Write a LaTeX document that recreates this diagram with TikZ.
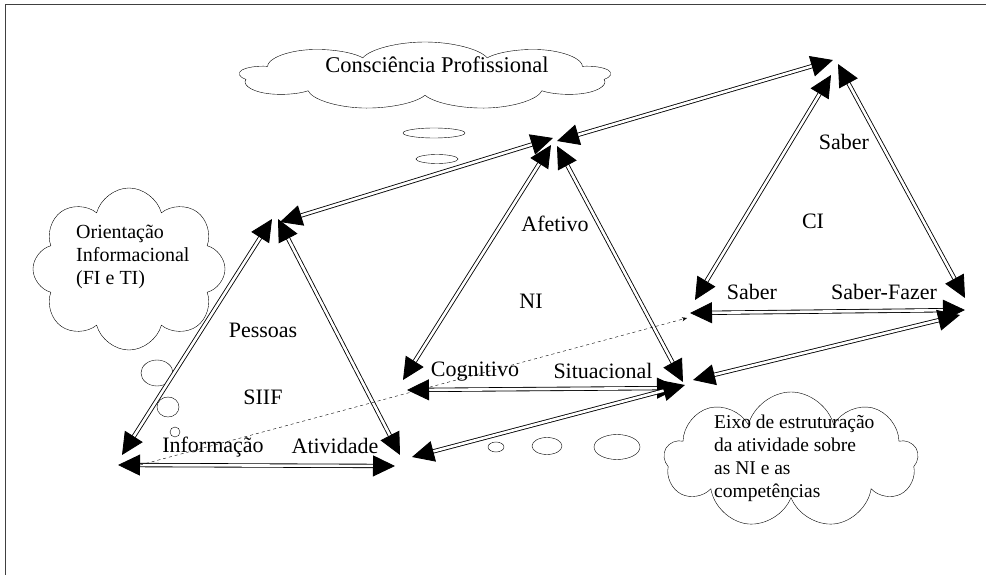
\documentclass[tikz,border=0pt]{standalone}
\usepackage{fontspec}
\setmainfont{Liberation Serif}
\usetikzlibrary{arrows.meta, shapes.symbols, positioning}

\tikzset{
  link/.style = {double, line width=0.85pt, double distance=2.6pt,
    {Triangle[length=22pt, width=21pt]}-{Triangle[length=22pt, width=21pt]}},
  thought/.style = {cloud, draw, cloud ignores aspect, inner sep=0pt},
  lbl/.style = {font=\fontsize{22}{24}\selectfont},
  bubble/.style = {draw}
}

\begin{document}
\begin{tikzpicture}[x=1pt, y=-1pt]
  \useasboundingbox (0,0) rectangle (986,575);
  \draw[gray!50!black, line width=0.8pt] (5,575) -- (5,4) -- (986,4);

  % clouds and their bubbles
  \begin{scope}[shift={(425,76)}, xscale=3]
    \node[thought, cloud puffs=9, minimum width=124pt, minimum height=68pt, transform shape] (conscloud) at (0,0) {};
  \end{scope}
  \node[font=\fontsize{22.5}{24}\selectfont] (consc) at (437,65) {Consciência Profissional};
  \node[thought, cloud puffs=8, minimum width=192pt, minimum height=162pt] (oricloud) at (129,269) {};
  \node[font=\fontsize{20}{23}\selectfont, align=left, anchor=west, inner sep=0pt] (ori) at (76,257)
    {Orientação\\Informacional\\(FI e TI)};
  \node[thought, cloud puffs=9, minimum width=254pt, minimum height=136pt] (eixocloud) at (791,460) {};
  \node[font=\fontsize{19.5}{23}\selectfont, align=left, anchor=west, inner sep=0pt] (eixo) at (714,458)
    {Eixo de estruturação\\da atividade sobre\\as NI e as\\competências};

  \draw[bubble] (434,133) ellipse [x radius=31pt, y radius=5pt];
  \draw[bubble] (437,159) ellipse [x radius=21pt, y radius=4.5pt];
  \draw[bubble] (157,373) ellipse [x radius=16pt, y radius=13pt];
  \draw[bubble] (168,407) ellipse [x radius=11pt, y radius=10pt];
  \draw[bubble] (175,432) circle [radius=5pt];
  \draw[bubble] (496,447) ellipse [x radius=8pt, y radius=5pt];
  \draw[bubble] (547,446) ellipse [x radius=15pt, y radius=8.5pt];
  \draw[bubble] (617,447) ellipse [x radius=23pt, y radius=12.5pt];

  % arrow ends at the corners
  \coordinate (s-top-l) at (272,219); \coordinate (s-top-r) at (278,219); \coordinate (s-top-u) at (280,222);
  \coordinate (s-bl-e) at (122,455); \coordinate (s-bl-b) at (118,465);
  \coordinate (s-br-e) at (400,455); \coordinate (s-br-b) at (395,466); \coordinate (s-br-d) at (412,457);
  \coordinate (n-top-l) at (551,145); \coordinate (n-top-r) at (557,146);
  \coordinate (n-top-in) at (553,138); \coordinate (n-top-out) at (557,141);
  \coordinate (n-bl-e) at (403,380); \coordinate (n-bl-b) at (407,390);
  \coordinate (n-br-e) at (683,382); \coordinate (n-br-b) at (679,388);
  \coordinate (n-br-in) at (685,385); \coordinate (n-br-out) at (693,380);
  \coordinate (c-top-in) at (833,60); \coordinate (c-top-l) at (831,75); \coordinate (c-top-r) at (838,64);
  \coordinate (c-bl-e) at (695,300); \coordinate (c-bl-b) at (690,313);
  \coordinate (c-br-e) at (965,298); \coordinate (c-br-b) at (965,310); \coordinate (c-br-d) at (960,315);
  \coordinate (dash-a) at (140,465); \coordinate (dash-b) at (687,318);

  \draw[link] (s-bl-e) -- (s-top-l); \draw[link] (s-top-r) -- (s-br-e); \draw[link] (s-bl-b) -- (s-br-b);
  \draw[link] (s-top-u) -- (n-top-in);
  \draw[link] (n-bl-e) -- (n-top-l); \draw[link] (n-top-r) -- (n-br-e); \draw[link] (n-bl-b) -- (n-br-b);
  \draw[link] (n-top-out) -- (c-top-in);
  \draw[link] (c-bl-e) -- (c-top-l); \draw[link] (c-top-r) -- (c-br-e); \draw[link] (c-bl-b) -- (c-br-b);
  \draw[link] (s-br-d) -- (n-br-in); \draw[link] (n-br-out) -- (c-br-d);
  \draw[dashed, -{Stealth[length=5pt, width=4pt]}] (dash-a) -- (dash-b);

  % labels
  \node[lbl] (pessoas) at (263,330) {Pessoas};
  \node[lbl] (siif) at (263,397) {SIIF};
  \node[lbl] (info) at (213,447) {Informação};
  \node[lbl] (ativ) at (335,446) {Atividade};
  \node[lbl] (afet) at (555,224) {Afetivo};
  \node[lbl] (ni) at (531,301) {NI};
  \node[lbl] (cogn) at (475,372) {Cognitivo};
  \node[lbl] (situ) at (603,371) {Situacional};
  \node[lbl] (saber-t) at (844,142) {Saber};
  \node[lbl] (ci) at (813,221) {CI};
  \node[lbl] (saber-b) at (752,292) {Saber};
  \node[lbl] (sfazer) at (884,292) {Saber-Fazer};
\end{tikzpicture}
\end{document}
